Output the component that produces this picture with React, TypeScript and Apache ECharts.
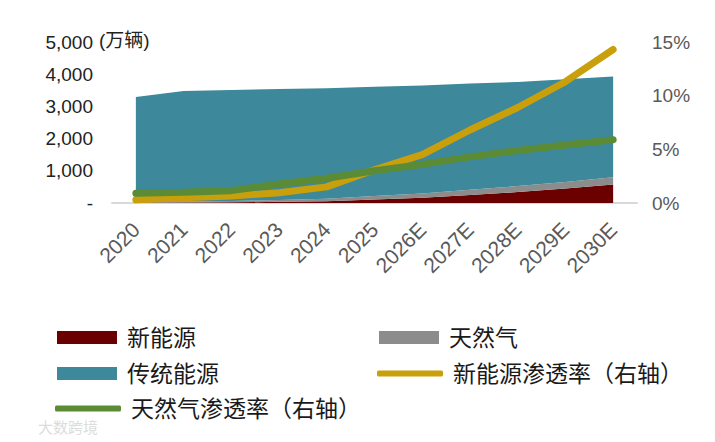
import { useEffect, useRef } from "react";
import * as echarts from "echarts";

const years = ["2020", "2021", "2022", "2023", "2024", "2025", "2026E", "2027E", "2028E", "2029E", "2030E"];

// 万辆, stacked bottom to top
const newEnergy = [10, 15, 20, 35, 55, 110, 165, 250, 340, 450, 575];
const naturalGas = [30, 35, 40, 60, 80, 105, 130, 160, 185, 205, 225];
const traditional = [3250, 3430, 3450, 3445, 3425, 3395, 3355, 3305, 3235, 3185, 3130];

// %, right axis
const newEnergyRate = [0.3, 0.5, 0.65, 0.96, 1.5, 3.1, 4.5, 6.8, 8.9, 11.3, 14.3];
const gasRate = [0.9, 1.0, 1.15, 1.77, 2.3, 3.0, 3.6, 4.3, 4.9, 5.4, 5.9];

const FONT = "'Liberation Sans', 'Noto Sans CJK SC', sans-serif";
const COLORS = {
  ne: "#6b0000",
  gas: "#8c8c8c",
  trad: "#3d889a",
  neRate: "#c9a00c",
  gasRate: "#5b8c35",
};

const App = () => {
  const chartRef = useRef<HTMLDivElement>(null);

  useEffect(() => {
    if (!chartRef.current) return;
    const chart = echarts.init(chartRef.current, undefined, { renderer: "svg" });

    const areaSeries = (name: string, data: number[], color: string) => ({
      name,
      type: "line" as const,
      stack: "total",
      data,
      symbol: "none",
      lineStyle: { width: 0 },
      itemStyle: { color },
      areaStyle: { color, opacity: 1 },
      emphasis: { disabled: true },
    });

    const rateSeries = (name: string, data: number[], color: string) => ({
      name,
      type: "line" as const,
      yAxisIndex: 1,
      data,
      symbol: "none",
      lineStyle: { width: 7, color, cap: "round" as const },
      itemStyle: { color },
      emphasis: { disabled: true },
      z: 5,
    });

    const legendText = { fontSize: 23, color: "#1a1a1a", fontFamily: FONT, padding: [0, 0, 0, 5] };
    const legendItem = (name: string, left: number, top: number, line: boolean) => ({
      data: [name],
      left,
      top,
      padding: 0,
      icon: line ? "roundRect" : "rect",
      itemWidth: line ? 66 : 60,
      itemHeight: line ? 6 : 13,
      textStyle: legendText,
      selectedMode: false,
    });

    chart.setOption({
      animation: false,
      textStyle: { fontFamily: FONT },
      grid: { left: 112, right: 78, top: 42, bottom: 239 },
      xAxis: {
        type: "category",
        data: years,
        boundaryGap: true,
        axisLine: { lineStyle: { color: "#d9d9d9", width: 2 } },
        axisTick: { show: false },
        axisLabel: { interval: 0, rotate: 45, fontSize: 21, color: "#595959", margin: 23, fontFamily: FONT },
      },
      yAxis: [
        {
          type: "value",
          min: 0,
          max: 5000,
          interval: 1000,
          axisLine: { show: false },
          axisTick: { show: false },
          splitLine: { show: false },
          axisLabel: {
            fontSize: 19,
            color: "#222",
            margin: 19,
            fontFamily: FONT,
            formatter: (v: number) => (v === 0 ? "-" : v.toLocaleString("en-US")),
          },
        },
        {
          type: "value",
          min: 0,
          max: 15,
          interval: 5,
          axisLine: { show: false },
          axisTick: { show: false },
          splitLine: { show: false },
          axisLabel: { fontSize: 19, color: "#595959", margin: 15, fontFamily: FONT, formatter: "{value}%" },
        },
      ],
      legend: [
        legendItem("新能源", 57, 326, false),
        legendItem("天然气", 379, 326, false),
        legendItem("传统能源", 57, 362, false),
        legendItem("新能源渗透率（右轴）", 377, 362, true),
        legendItem("天然气渗透率（右轴）", 55, 397, true),
      ],
      graphic: [
        {
          type: "text",
          left: 99,
          top: 31,
          style: { text: "(万辆)", fontSize: 19, fill: "#222", fontFamily: FONT },
        },
        {
          type: "text",
          left: 38,
          top: 420,
          style: { text: "大数跨境", fontSize: 15, fill: "#dcdcdc", fontFamily: FONT },
        },
      ],
      series: [
        areaSeries("新能源", newEnergy, COLORS.ne),
        areaSeries("天然气", naturalGas, COLORS.gas),
        areaSeries("传统能源", traditional, COLORS.trad),
        rateSeries("新能源渗透率（右轴）", newEnergyRate, COLORS.neRate),
        rateSeries("天然气渗透率（右轴）", gasRate, COLORS.gasRate),
      ],
    });

    return () => chart.dispose();
  }, []);

  return <div ref={chartRef} style={{ position: "absolute", left: 0, top: 0, width: 715, height: 442 }} />;
};

export default App;
